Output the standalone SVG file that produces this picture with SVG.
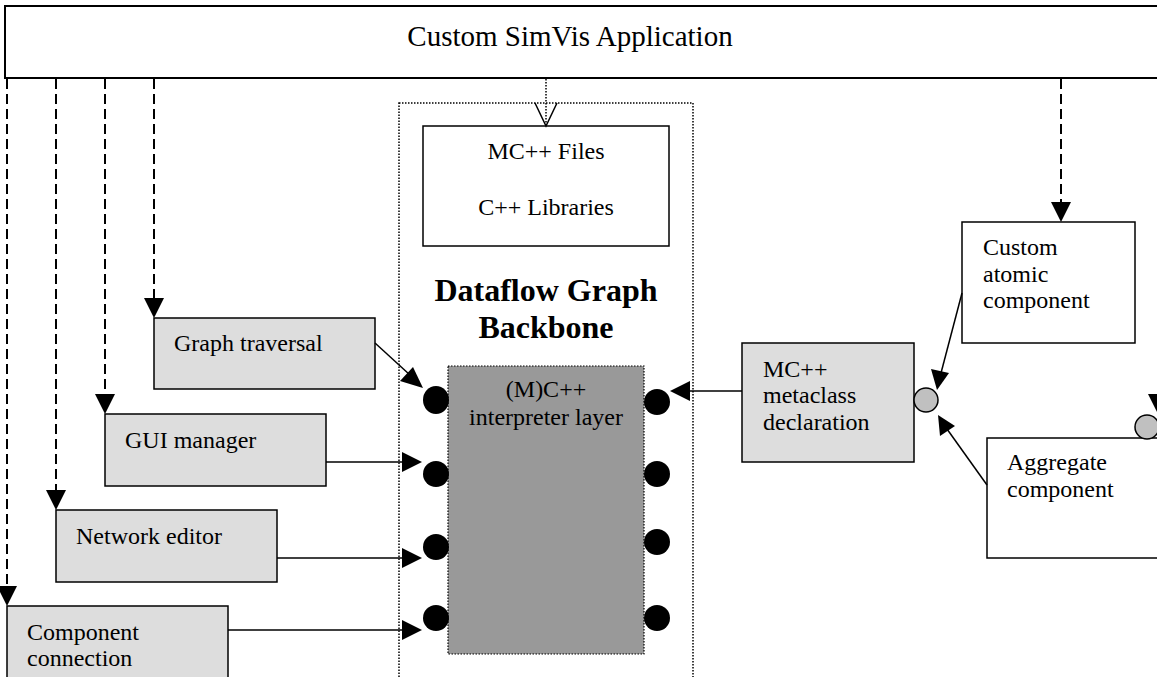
<svg xmlns="http://www.w3.org/2000/svg" width="1157" height="677" viewBox="0 0 1157 677">
<style>
text{font-family:"Liberation Serif","Times New Roman",serif;fill:#000}
.t{font-size:24px}
.box{stroke:#000;stroke-width:1.5}
.g{fill:#dddddd}
.w{fill:#ffffff}
.dash{stroke:#000;stroke-width:2;stroke-dasharray:10 5;fill:none}
.sol{stroke:#000;stroke-width:1.5;fill:none}
.dot{stroke:#000;stroke-width:1.5;stroke-dasharray:1.5 1.5;fill:none}
.ah{fill:#000}
.port{fill:#000}
.gport{fill:#c0c0c0;stroke:#000;stroke-width:1.5}
</style>
<rect width="1157" height="677" fill="#fff"/>
<g id="app">
<rect x="5" y="6" width="1170" height="72" fill="#fff" stroke="#000" stroke-width="2"/>
<text x="570" y="46" font-size="29" text-anchor="middle">Custom SimVis Application</text>
</g>
<g id="backbone">
<rect x="399" y="103" width="294" height="590" class="dot"/>
<text x="546" y="301" font-size="32" font-weight="bold" text-anchor="middle">Dataflow Graph</text>
<text x="546" y="338" font-size="32" font-weight="bold" text-anchor="middle">Backbone</text>
</g>
<g id="files">
<rect x="423" y="126" width="246" height="120" class="box w"/>
<text class="t" x="546" y="159" text-anchor="middle">MC++ Files</text>
<text class="t" x="546" y="215" text-anchor="middle">C++ Libraries</text>
</g>
<g id="interpreter">
<rect x="448" y="366" width="196" height="288" fill="#999999" stroke="#000" stroke-width="1.2" stroke-dasharray="1.5 1.5"/>
<text class="t" x="546" y="397" text-anchor="middle">(M)C++</text>
<text class="t" x="546" y="425" text-anchor="middle">interpreter layer</text>
<ellipse class="port" cx="436" cy="400" rx="13" ry="14"/>
<circle class="port" cx="436" cy="474" r="13"/>
<circle class="port" cx="436" cy="547" r="13"/>
<circle class="port" cx="436" cy="618" r="13"/>
<circle class="port" cx="657" cy="402" r="13"/>
<circle class="port" cx="657" cy="474" r="13"/>
<circle class="port" cx="657" cy="542" r="13"/>
<circle class="port" cx="657" cy="618" r="13"/>
</g>
<g id="graph-traversal">
<rect x="154" y="318" width="221" height="71" class="box g"/>
<text class="t" x="174" y="351">Graph traversal</text>
</g>
<g id="gui-manager">
<rect x="105" y="414" width="221" height="72" class="box g"/>
<text class="t" x="125" y="448">GUI manager</text>
</g>
<g id="network-editor">
<rect x="56" y="510" width="221" height="72" class="box g"/>
<text class="t" x="76" y="544">Network editor</text>
</g>
<g id="component-connection">
<rect x="7" y="606" width="221" height="90" class="box g"/>
<text class="t" x="27" y="640">Component</text>
<text class="t" x="27" y="666">connection</text>
</g>
<g id="metaclass">
<rect x="742" y="343" width="172" height="119" class="box g"/>
<text class="t" x="763" y="377">MC++</text>
<text class="t" x="763" y="403">metaclass</text>
<text class="t" x="763" y="430">declaration</text>
<circle class="gport" cx="926" cy="400" r="12"/>
</g>
<g id="atomic">
<rect x="962" y="222" width="173" height="121" class="box w"/>
<text class="t" x="983" y="255">Custom</text>
<text class="t" x="983" y="282">atomic</text>
<text class="t" x="983" y="308">component</text>
</g>
<g id="aggregate">
<rect x="987" y="438" width="190" height="120" class="box w"/>
<text class="t" x="1007" y="470">Aggregate</text>
<text class="t" x="1007" y="497">component</text>
<circle class="gport" cx="1147" cy="427" r="12"/>
</g>
<g id="connectors">
<line class="dash" x1="154" y1="79" x2="154" y2="300"/>
<polygon class="ah" points="144,298 164,298 154,318"/>
<line class="dash" x1="105" y1="79" x2="105" y2="396"/>
<polygon class="ah" points="95,394 115,394 105,414"/>
<line class="dash" x1="56" y1="79" x2="56" y2="492"/>
<polygon class="ah" points="46,490 66,490 56,510"/>
<line class="dash" x1="7" y1="79" x2="7" y2="588"/>
<polygon class="ah" points="-3,586 17,586 7,606"/>
<line class="dash" x1="1061" y1="79" x2="1061" y2="204"/>
<polygon class="ah" points="1051,202 1071,202 1061,222"/>
<polygon class="ah" points="1148,394 1168,394 1158,414"/>
<line class="dot" x1="546" y1="79" x2="546" y2="126"/>
<polyline class="sol" points="535,103 546,126 557,103"/>
<line class="sol" x1="375" y1="343" x2="410" y2="375"/>
<polygon class="ah" points="423,388 400,381 413,367"/>
<line class="sol" x1="326" y1="462" x2="404" y2="462"/>
<polygon class="ah" points="402,452 402,472 422,462"/>
<line class="sol" x1="277" y1="558" x2="404" y2="558"/>
<polygon class="ah" points="402,548 402,568 422,558"/>
<line class="sol" x1="228" y1="630" x2="404" y2="630"/>
<polygon class="ah" points="402,620 402,640 422,630"/>
<line class="sol" x1="742" y1="391" x2="688" y2="391"/>
<polygon class="ah" points="690,381 690,401 670,391"/>
<line class="sol" x1="962" y1="293" x2="941" y2="373"/>
<polygon class="ah" points="937,390 931,369 949,373"/>
<line class="sol" x1="987" y1="485" x2="947" y2="429"/>
<polygon class="ah" points="938,415 955,426 940,436"/>
</g>
</svg>
